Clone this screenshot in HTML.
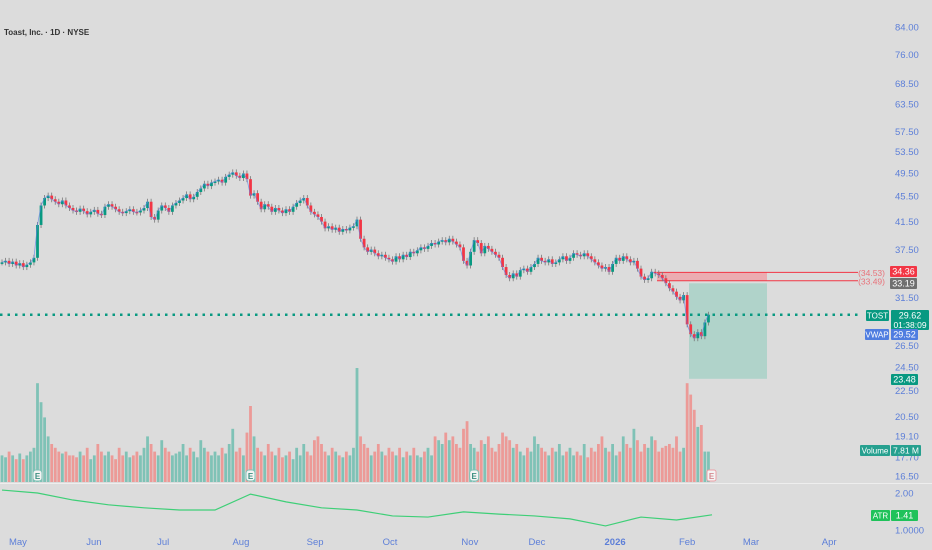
<!DOCTYPE html>
<html><head><meta charset="utf-8"><style>
body{margin:0;background:#dcdcdc;font-family:"Liberation Sans",sans-serif;}
svg{display:block}
</style></head><body>
<svg id="c" width="932" height="550" xmlns="http://www.w3.org/2000/svg">
<rect width="932" height="550" fill="#dcdcdc"/>
<g id="g"></g>
</svg>
<script>
const closes=[35.8,36.0,35.6,35.9,35.4,35.7,35.2,35.5,35.8,36.4,
41.0,44.0,45.2,45.6,45.0,44.6,44.2,44.8,44.0,43.6,
43.2,43.0,43.5,43.1,42.6,43.0,43.3,42.7,42.5,43.8,
44.2,43.8,43.4,43.0,42.8,43.1,43.4,43.0,42.9,43.2,
43.6,44.6,42.2,41.8,43.2,44.0,43.6,43.0,44.0,44.4,
44.8,45.2,45.8,45.0,45.4,46.2,46.8,47.6,47.2,47.8,
48.0,48.3,47.8,48.8,49.2,49.6,49.0,48.6,49.4,48.4,
45.6,46.0,44.6,43.4,44.2,43.8,43.0,43.6,43.2,42.8,
43.4,43.0,43.8,44.4,44.8,45.2,44.0,43.0,42.6,42.2,
41.5,40.5,40.8,40.3,40.6,40.0,40.4,40.2,40.6,40.8,
41.8,39.0,37.8,37.2,37.5,37.0,36.6,36.8,36.4,36.2,
35.9,36.6,36.2,36.8,36.5,37.2,37.0,37.4,37.8,37.6,
38.0,38.4,38.2,38.6,38.8,38.5,39.0,38.6,38.2,37.8,
36.0,35.4,37.2,38.8,38.4,37.0,38.0,37.6,37.2,36.8,
36.4,35.2,34.2,33.8,34.4,34.0,34.8,35.0,34.6,35.2,
35.6,36.4,36.0,35.8,36.2,35.6,35.8,36.2,36.6,36.0,
36.4,37.0,36.8,36.6,37.0,36.6,36.2,35.8,35.4,35.0,
35.2,34.6,35.6,36.4,36.0,36.6,36.2,35.8,36.0,35.0,
34.0,33.6,33.8,34.6,34.4,34.2,33.8,33.2,32.6,32.2,
31.6,31.2,31.8,28.6,27.6,27.2,27.8,27.4,28.8,29.62];
const volumes=[7,6.5,8,7,6,7.5,6,7,8,9,
26,21,17,12,10,9,8,7.5,8,7,
7,6.5,8,7,9,6,7,10,8,7,
8,7,6,9,7,8,6.5,7,8,7,
9,12,10,8,7,11,9,8,7,7.5,
8,10,7,9,8,6.5,11,9,8,7,
8,7,9,7.5,10,14,8,9,7,13,
20,12,9,8,7,10,8,7,9,6.5,
7,8,6,9,7,10,8,7,11,12,
10,8,7,9,8,7,6.5,8,7,9,
30,12,10,9,7,8,10,8,7,9,
8,7,9,6.5,8,7,9,7,6.5,8,
9,7,12,11,10,13,11,12,10,9,
14,16,10,9,8,11,10,12,9,8,
10,13,12,11,9,10,8,7,9,8,
12,10,9,8,7,9,8,10,7,8,
9,7,8,7,10,6.5,9,8,10,12,
9,8,10,7,8,12,10,9,14,11,
8,10,9,12,11,8,9,9.5,10,9,
12,8,9,26,23,19,14.5,15,8,8];
const atr=[2.08,2.0,1.81,1.68,1.6,1.54,1.54,1.97,1.76,1.6,1.54,1.38,1.35,1.49,1.43,1.38,1.3,1.11,1.35,1.27,1.41];
const priceTicks=["84.00","76.00","68.50","63.50","57.50","53.50","49.50","45.50","41.50","37.50","31.50","26.50","24.50","22.50","20.50","19.10","17.70","16.50"];
const months=["May","Jun","Jul","Aug","Sep","Oct","Nov","Dec","2026","Feb","Mar","Apr"];
const monthBar=[4.5,25.9,45.4,67.3,88.2,109.3,131.8,150.7,172.7,193,211,233];

const NS="http://www.w3.org/2000/svg",G=document.getElementById('g');
function el(t,a,txt){const e=document.createElementNS(NS,t);for(const k in a)e.setAttribute(k,a[k]);if(txt!==undefined)e.textContent=txt;G.appendChild(e);return e;}
const X0=2,DX=3.55;
const xb=i=>X0+i*DX;
const yp=p=>27+(Math.log(84)-Math.log(p))*276;
const yv=v=>482-v*3.8;
const ya=a=>493+(2-a)*37;
const GREEN="#089981",RED="#f23645";

let e;
e=el('rect',{x:657,y:yp(34.53),width:110,height:yp(33.49)-yp(34.53),fill:"#f0a0a6",opacity:0.8});

e=el('rect',{x:689,y:yp(33.19),width:78,height:yp(23.48)-yp(33.19),fill:"#b0d3ca"});

e=el('line',{x1:657,x2:858,y1:yp(34.53),y2:yp(34.53),stroke:RED,'stroke-width':1});

e=el('line',{x1:657,x2:858,y1:yp(33.49),y2:yp(33.49),stroke:RED,'stroke-width':1});


for(let i=0;i<closes.length;i++){
 const o=i?closes[i-1]:closes[0],up=closes[i]>=o;
 e=el('rect',{x:xb(i)-1.4,y:yv(volumes[i]),width:2.8,height:volumes[i]*3.8,fill:up?"#7fc2b6":"#ec9a97"});
 
}
for(let i=0;i<closes.length;i++){
 const o=i?closes[i-1]:closes[0],c=closes[i],up=c>=o;
 const hi=Math.max(o,c),lo=Math.min(o,c);
 e=el('line',{x1:xb(i),x2:xb(i),y1:yp(hi)-3,y2:yp(lo)+3,stroke:"#777",'stroke-width':0.8});
 
 e=el('rect',{x:xb(i)-1.4,y:yp(hi),width:2.8,height:Math.max(1.5,yp(lo)-yp(hi)),fill:up?GREEN:RED});
 
}
e=el('polyline',{points:closes.map((c,i)=>xb(i)+","+yp(c)).join(" "),fill:"none",stroke:"#5b7ee6",'stroke-width':0.8,opacity:0.7});

e=el('line',{x1:0,x2:860,y1:yp(29.62),y2:yp(29.62),stroke:GREEN,'stroke-width':2.5,'stroke-dasharray':'2.5 5'});

e=el('line',{x1:0,x2:932,y1:483.5,y2:483.5,stroke:"#eeeeee",'stroke-width':1});

e=el('polyline',{points:atr.map((a,k)=>xb(k*10)+","+ya(a)).join(" "),fill:"none",stroke:"#3ecf77",'stroke-width':1.2});

[10,70,133].forEach(i=>{
 e=el('rect',{x:xb(i)-4.5,y:470,width:9,height:11,rx:3,fill:"#f4f4f4",stroke:"#7fc2b6"});
 
 e=el('text',{x:xb(i),y:479,'font-size':8,'text-anchor':'middle',fill:"#3a8f80",'font-weight':'bold'},"E");
 
});
e=el('rect',{x:707,y:470,width:9,height:11,rx:2,fill:"#f4f4f4",stroke:"#eba0a6"});

e=el('text',{x:711.5,y:479,'font-size':8,'text-anchor':'middle',fill:"#d58a90",'font-weight':'bold'},"E");


priceTicks.forEach(t=>{
 e=el('text',{x:895,y:yp(parseFloat(t))+3.5,'font-size':9.5,fill:"#5d7fd8"},t);
 
});
[["2.00",2],["1.0000",1]].forEach(([t,v])=>{
 e=el('text',{x:895,y:ya(v)+3.5,'font-size':9.5,fill:"#5d7fd8"},t);
 
});
months.forEach((m,k)=>{
 e=el('text',{x:xb(monthBar[k]),y:545,'font-size':9.5,'text-anchor':'middle',fill:"#5d7fd8",'font-weight':m==="2026"?"bold":"normal"},m);
 
});
function box(x,y,w,h,fill,txt,name,fs){
 e=el('rect',{x:x,y:y,width:w,height:h,fill:fill,rx:1});
 
 e=el('text',{x:x+w/2,y:y+h/2+3.2,'font-size':fs||9,'text-anchor':'middle',fill:"#fff"},txt);
 
}
e=el('text',{x:885,y:yp(34.53)+3.5,'font-size':8.5,'text-anchor':'end',fill:"#e8727a"},"(34.53)");

e=el('text',{x:885,y:yp(33.49)+3.5,'font-size':8.5,'text-anchor':'end',fill:"#e8727a"},"(33.49)");

box(890,266,27,11,RED,"34.36","stop-price-badge");
box(890,278,27,11,"#707070","33.19","entry-price-badge");
box(866,310,23,11,GREEN,"TOST","symbol-badge",8);
box(891,310,38,11,GREEN,"29.62","last-price-badge");
box(891,320,38,10,GREEN,"01:38:09","countdown-badge",8.5);
box(865,329,24,11,"#4f7de0","VWAP","vwap-badge",8);
box(891,329,27,11,"#4f7de0","29.52","vwap-price-badge");
box(891,374,27,11,GREEN,"23.48","target-price-badge");
box(860,445,30,11,"#26a08f","Volume","volume-badge",8);
box(891,445,30,11,"#26a08f","7.81 M","volume-value-badge",8.5);
box(871,510,19,11,"#1fc25a","ATR","atr-badge",8);
box(891,510,27,11,"#1fc25a","1.41","atr-value-badge");
e=el('text',{x:4,y:35,'font-size':8,'font-weight':'bold',fill:"#333"},"Toast, Inc. · 1D · NYSE");

</script>
</body></html>
